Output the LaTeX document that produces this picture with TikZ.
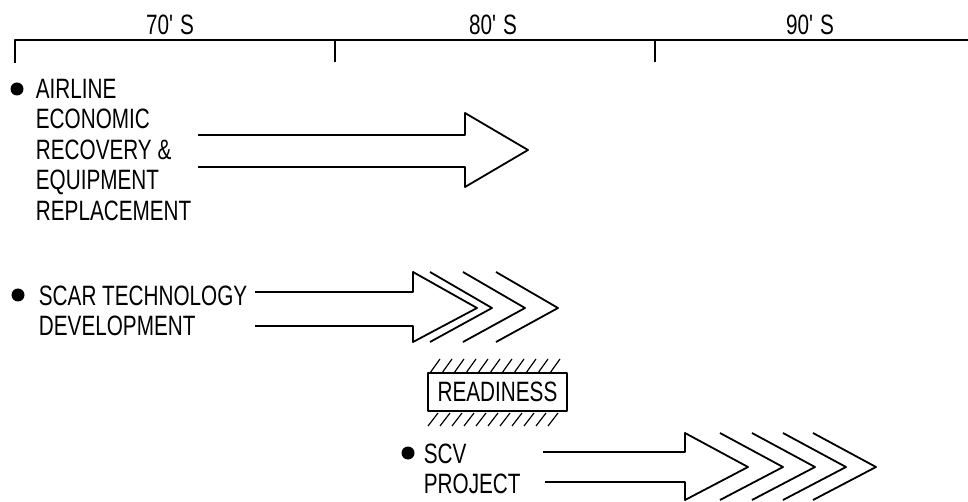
\documentclass[tikz,border=0pt]{standalone}
\usepackage{fontspec}
\setmainfont[FakeStretch=0.74]{Liberation Sans}
\begin{document}
\begin{tikzpicture}[x=1pt, y=-1pt, line width=1.8pt, line join=round,
    lbl/.style={font=\fontsize{28}{30.5}\selectfont, inner sep=0pt, align=left, anchor=north west},
    dot/.style={circle, fill, inner sep=0pt, minimum size=13pt}]
    \useasboundingbox (0,0) rectangle (968,502);

    % time axis
    \draw (15,63) -- (15,40) -- (968,40);
    \draw (335,40) -- (335,62);
    \draw (655,40) -- (655,62);
    \node[lbl, anchor=center] (d70) at (170,25) {70\textquotesingle\ S};
    \node[lbl, anchor=center] (d80) at (493,25) {80\textquotesingle\ S};
    \node[lbl, anchor=center] (d90) at (810,25) {90\textquotesingle\ S};

    % airline recovery
    \node[dot] (b1) at (17,89) {};
    \node[lbl] (airline) at (35,78) {AIRLINE\\ECONOMIC\\RECOVERY \&\\EQUIPMENT\\REPLACEMENT};
    \draw (198,135) -- (465,135) -- (465,113) -- (528,150) -- (465,187) -- (465,167) -- (198,167);

    % scar technology
    \node[dot] (b2) at (18,295) {};
    \node[lbl] (scar) at (38,285) {SCAR TECHNOLOGY\\DEVELOPMENT};
    \draw (255,292) -- (413,292) -- (413,272) -- (477,308) -- (413,342) -- (413,326) -- (255,326);
    \foreach \c in {430,463,496} {
            \draw (\c,272) -- ({\c+62},308) -- (\c,342);
        }

    % readiness
    \node[lbl, anchor=center, draw, minimum width=139pt, minimum height=38pt] (ready) at (497.5,392) {READINESS};
    \foreach \x in {430,442,...,554} {
            \draw[line width=1.2pt] (\x,373) -- ++(10,-14);
        }
    \foreach \x in {428,440,...,552} {
            \draw[line width=1.2pt] (\x,426) -- ++(10,-13);
        }

    % scv project
    \node[dot] (b3) at (408,453) {};
    \node[lbl] (scv) at (423,443) {SCV\\PROJECT};
    \draw (543,452) -- (685,452) -- (685,433) -- (748,467) -- (685,500) -- (685,482) -- (545,482);
    \foreach \c in {720,752,783,813} {
            \draw (\c,433) -- ({\c+63},467) -- (\c,500);
        }
\end{tikzpicture}
\end{document}
